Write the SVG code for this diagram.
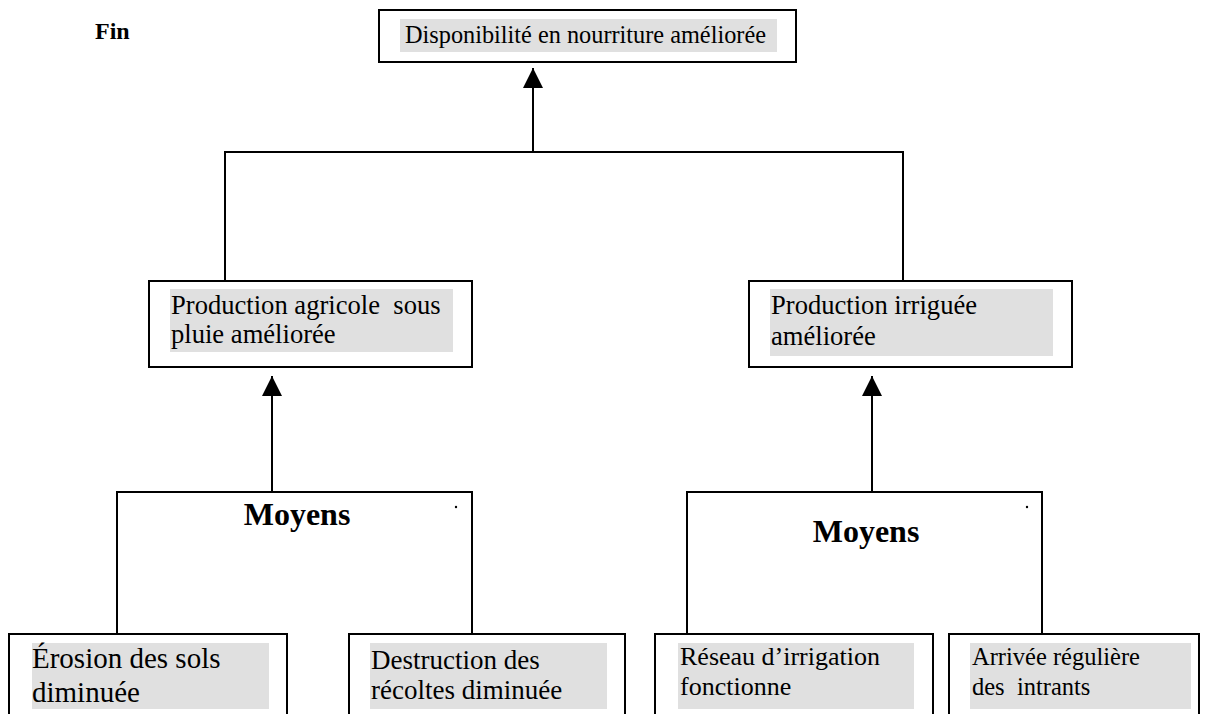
<svg xmlns="http://www.w3.org/2000/svg" width="1209" height="714" viewBox="0 0 1209 714">
<defs>
<style>
.box{fill:#fff;stroke:#000;stroke-width:2}
.hl{fill:#e0e0e0}
.t{font-family:'Times New Roman','Liberation Serif','DejaVu Serif',serif;font-weight:normal;fill:#000}
.b{font-family:'Times New Roman','Liberation Serif','DejaVu Serif',serif;font-weight:bold;fill:#000}
.ln{fill:none;stroke:#000;stroke-width:2}
</style>
<marker id="ah" viewBox="0 0 20 20" refX="20" refY="10" markerWidth="20" markerHeight="20" markerUnits="userSpaceOnUse" orient="auto">
<path d="M0,0 L20,10 L0,20 Z" fill="#000"/>
</marker>
</defs>
<rect width="1209" height="714" fill="#fff"/>
<text class="b" x="95" y="39" font-size="24">Fin</text>
<g id="connectors">
<line class="ln" x1="533" y1="152" x2="533" y2="68" marker-end="url(#ah)"/>
<polyline class="ln" points="225,280 225,152 903,152 903,280"/>
<line class="ln" x1="272" y1="492" x2="272" y2="376" marker-end="url(#ah)"/>
<line class="ln" x1="872" y1="492" x2="872" y2="376" marker-end="url(#ah)"/>
</g>
<g id="n-top">
<rect class="box" x="379" y="10" width="417" height="52"/>
<rect class="hl" x="400" y="19" width="377" height="33"/>
<text class="t" x="405" y="43" font-size="24.3">Disponibilité en nourriture améliorée</text>
</g>
<g id="n-agri">
<rect class="box" x="149" y="281" width="323" height="86"/>
<rect class="hl" x="170" y="289" width="283" height="63"/>
<text class="t" font-size="26.6" xml:space="preserve"><tspan x="171" y="314">Production agricole  sous</tspan><tspan x="171" y="343">pluie améliorée</tspan></text>
</g>
<g id="n-irr">
<rect class="box" x="749" y="281" width="323" height="86"/>
<rect class="hl" x="770" y="289" width="283" height="67"/>
<text class="t" font-size="26.6"><tspan x="771" y="314">Production irriguée</tspan><tspan x="771" y="345">améliorée</tspan></text>
</g>
<g id="n-moyens1">
<polyline class="ln" points="117,634 117,492 472,492 472,634"/>
<text class="b" x="297" y="525" font-size="32" text-anchor="middle">Moyens</text>
<circle cx="456" cy="507" r="1.2" fill="#000"/>
</g>
<g id="n-moyens2">
<polyline class="ln" points="687,634 687,492 1042,492 1042,634"/>
<text class="b" x="866" y="542" font-size="32" text-anchor="middle">Moyens</text>
<circle cx="1027" cy="507" r="1.2" fill="#000"/>
</g>
<g id="n-erosion">
<rect class="box" x="9" y="634" width="278" height="100"/>
<rect class="hl" x="32" y="643" width="237" height="66"/>
<text class="t" font-size="29"><tspan x="32" y="668">Érosion des sols</tspan><tspan x="32" y="702">diminuée</tspan></text>
</g>
<g id="n-destruction">
<rect class="box" x="349" y="634" width="276" height="100"/>
<rect class="hl" x="370" y="643" width="237" height="66"/>
<text class="t" font-size="27"><tspan x="371" y="669">Destruction des</tspan><tspan x="371" y="699">récoltes diminuée</tspan></text>
</g>
<g id="n-reseau">
<rect class="box" x="655" y="634" width="278" height="100"/>
<rect class="hl" x="678" y="643" width="236" height="66"/>
<text class="t" font-size="26"><tspan x="680" y="665">Réseau d’irrigation</tspan><tspan x="680" y="695">fonctionne</tspan></text>
</g>
<g id="n-arrivee">
<rect class="box" x="949" y="634" width="250" height="100"/>
<rect class="hl" x="970" y="643" width="221" height="66"/>
<text class="t" font-size="24.5" xml:space="preserve"><tspan x="972" y="665">Arrivée régulière</tspan><tspan x="972" y="695">des  intrants</tspan></text>
</g>
</svg>
